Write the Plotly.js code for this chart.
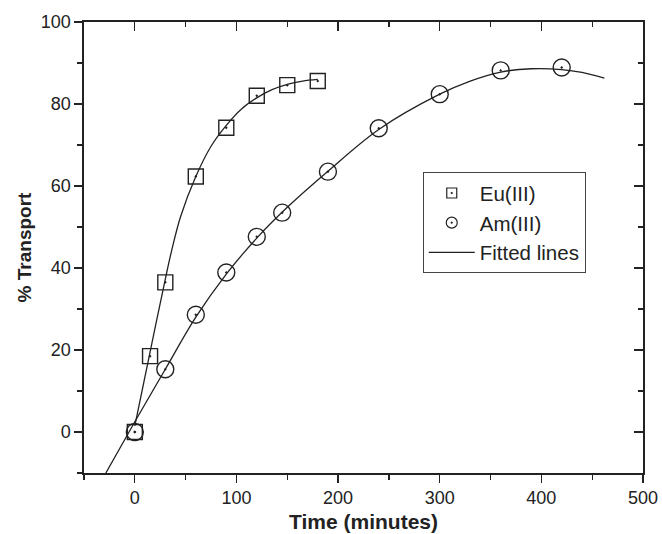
<!DOCTYPE html>
<html>
<head>
<meta charset="utf-8">
<script src="https://cdn.plot.ly/plotly-3.0.1.min.js"></script>
<style>
html,body{margin:0;padding:0;background:#fff;}
#chart{width:662px;height:534px;}
</style>
</head>
<body>
<div id="chart"></div>
<script>
// Measured data
const euTime = [0, 15, 30, 60, 90, 120, 150, 180];
const euTransport = [0, 18.5, 36.5, 62.3, 74.2, 82.0, 84.6, 85.6];

const amTime = [0, 30, 60, 90, 120, 145, 190, 240, 300, 360, 420];
const amTransport = [0, 15.3, 28.6, 38.9, 47.6, 53.5, 63.5, 74.1, 82.4, 88.2, 88.9];

// Fitted curves
const euFitTime = [0, 15, 30, 36, 45, 60, 75, 90, 105, 120, 135, 150, 165, 180];
const euFitY = [1.5, 19.5, 37.3, 44, 52.5, 62.3, 69.7, 74.8, 78.8, 81.5, 83.5, 84.8, 85.6, 86];

const amFitTime = [-28.5, 0, 30, 60, 90, 120, 150, 190, 240, 300, 330, 360, 390, 420, 440, 462];
const amFitY = [-10, 2.5, 15.3, 28, 38.5, 47.3, 54.8, 63.6, 73.8, 82.4, 85.6, 87.8, 88.6, 88.4, 87.7, 86.3];

const xTicks = [0, 100, 200, 300, 400, 500];
const yTicks = [0, 20, 40, 60, 80, 100];

const ink = '#222';
const font = 'Liberation Sans, Arial, sans-serif';

const traces = [
  {x: euFitTime, y: euFitY, mode: 'lines', line: {color: ink, width: 1.3, shape: 'spline'},
   name: 'Fitted lines', showlegend: true, legendrank: 3, hoverinfo: 'skip'},
  {x: amFitTime, y: amFitY, mode: 'lines', line: {color: ink, width: 1.3, shape: 'spline'},
   showlegend: false, hoverinfo: 'skip'},
  {x: euTime, y: euTransport, mode: 'markers', showlegend: false,
   marker: {symbol: 'square-open-dot', size: 15, color: ink, line: {color: ink, width: 1.4}}},
  {x: amTime, y: amTransport, mode: 'markers', showlegend: false,
   marker: {symbol: 'circle-open-dot', size: 17, color: ink, line: {color: ink, width: 1.4}}},
  // legend entries
  {x: [null], y: [null], mode: 'markers', name: 'Eu(III)', legendrank: 1,
   marker: {symbol: 'square-open-dot', size: 10, color: ink, line: {color: ink, width: 1.2}}},
  {x: [null], y: [null], mode: 'markers', name: 'Am(III)', legendrank: 2,
   marker: {symbol: 'circle-open-dot', size: 11, color: ink, line: {color: ink, width: 1.2}}},
  // mirror axes
  {x: [null], y: [null], xaxis: 'x2', yaxis: 'y2', mode: 'markers', showlegend: false, hoverinfo: 'skip'}
];

const axBase = {
  showline: true, linecolor: ink, linewidth: 1.6, showgrid: false, zeroline: false,
  ticks: 'outside', tickcolor: ink, tickwidth: 1.3, ticklen: 8,
  tickfont: {family: font, size: 18, color: ink}
};

const layout = {
  width: 662, height: 534,
  margin: {l: 84, r: 19, t: 22, b: 61},
  paper_bgcolor: '#fff', plot_bgcolor: '#fff',
  showlegend: true,
  legend: {
    x: 0.606, y: 0.667, xanchor: 'left', yanchor: 'top',
    bordercolor: '#444', borderwidth: 1, bgcolor: '#fff',
    font: {family: font, size: 20.5, color: ink},
    itemwidth: 46, tracegroupgap: 0
  },
  xaxis: Object.assign({}, axBase, {
    range: [-50, 500], tickvals: xTicks, ticktext: xTicks.map(String),
    minor: {tickvals: [-50, 50, 150, 250, 350, 450], ticks: 'outside', ticklen: 5, tickcolor: ink, tickwidth: 1.3},
    title: {text: '<b>Time (minutes)</b>', font: {family: font, size: 21, color: ink}, standoff: 7}
  }),
  yaxis: Object.assign({}, axBase, {
    range: [-10, 100], tickvals: yTicks, ticktext: yTicks.map(String),
    minor: {tickvals: [-10, 10, 30, 50, 70, 90], ticks: 'outside', ticklen: 5, tickcolor: ink, tickwidth: 1.3},
    title: {text: '<b>% Transport</b>', font: {family: font, size: 19, color: ink}, standoff: 4}
  }),
  xaxis2: {
    overlaying: 'x', side: 'top', anchor: 'y', range: [-50, 500],
    showline: true, linecolor: ink, linewidth: 1.6, showgrid: false, zeroline: false,
    tickvals: xTicks, ticks: 'inside', ticklen: 9, tickcolor: ink, tickwidth: 1.3, showticklabels: false,
    minor: {tickvals: [-50, 50, 150, 250, 350, 450], ticks: 'inside', ticklen: 5, tickcolor: ink, tickwidth: 1.3}
  },
  yaxis2: {
    overlaying: 'y', side: 'right', anchor: 'x', range: [-10, 100],
    showline: true, linecolor: ink, linewidth: 1.6, showgrid: false, zeroline: false,
    tickvals: yTicks, ticks: 'inside', ticklen: 9, tickcolor: ink, tickwidth: 1.3, showticklabels: false,
    minor: {tickvals: [-10, 10, 30, 50, 70, 90], ticks: 'inside', ticklen: 5, tickcolor: ink, tickwidth: 1.3}
  }
};

Plotly.newPlot('chart', traces, layout, {staticPlot: true, displayModeBar: false});
</script>
</body>
</html>
